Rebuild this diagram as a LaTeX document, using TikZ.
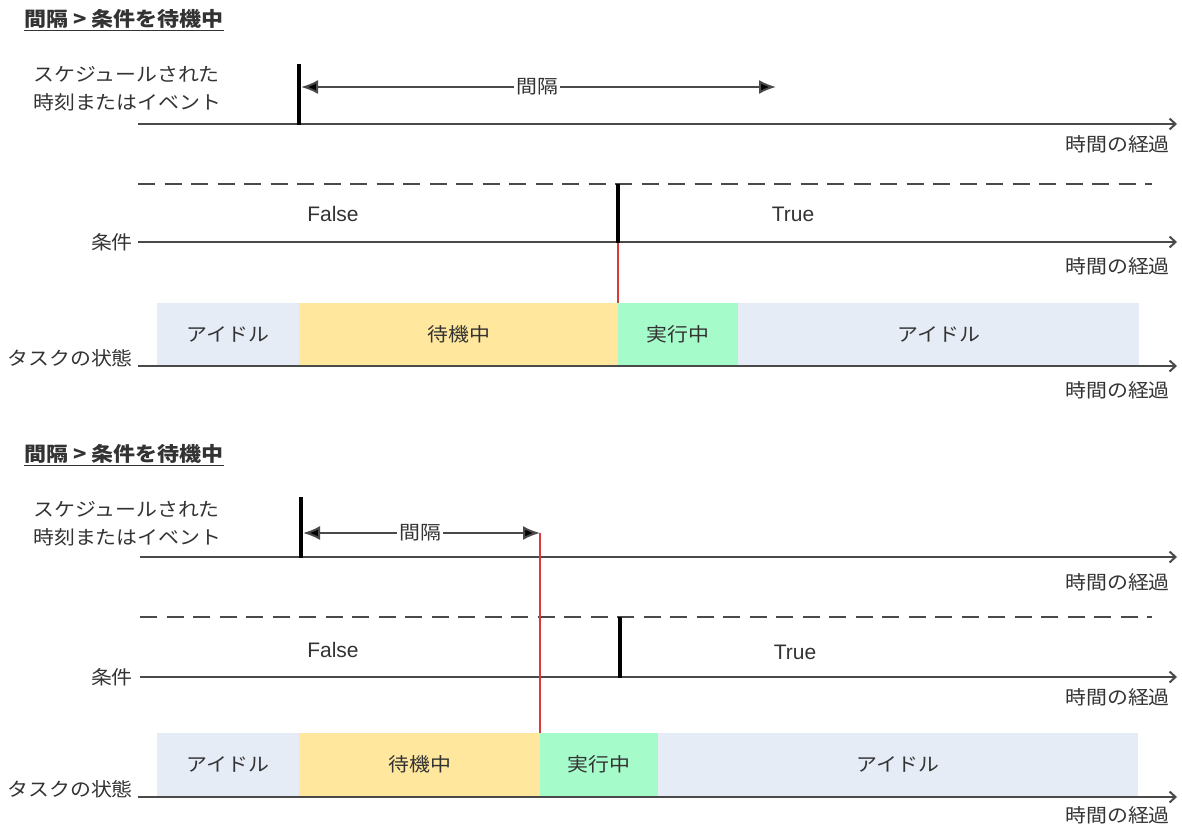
\documentclass[tikz,border=0pt]{standalone}
\usepackage{fontspec}
\setmainfont[FakeStretch=1.1]{Noto Sans CJK JP}
\newfontfamily\latinfont{Liberation Sans}
\usetikzlibrary{arrows.meta}
\definecolor{axisgray}{HTML}{4A4A4A}
\definecolor{txtgray}{HTML}{333333}
\definecolor{redline}{HTML}{D83A3A}
\definecolor{idlecol}{HTML}{E6ECF6}
\definecolor{waitcol}{HTML}{FFE79E}
\definecolor{runcol}{HTML}{A6FBCA}
\tikzset{
  axis/.style={draw=axisgray, line width=2pt, -{Straight Barb[length=6pt,width=11pt]}},
  lbl/.style={text=txtgray, font=\fontsize{19}{28}\selectfont, inner sep=0pt},
  ttl/.style={text=txtgray, font=\fontsize{20}{24}\selectfont\bfseries, inner sep=0pt, anchor=west},
  tf/.style={text=txtgray, font=\fontsize{21}{24}\selectfont\latinfont, inner sep=0pt},
  tickmark/.style={line width=4pt, draw=black},
  ivl/.style={line width=2pt, draw=axisgray, {Latex[length=17pt,width=14pt,fill=black]}-{Latex[length=17pt,width=14pt,fill=black]}},
  trig/.style={draw=redline, line width=1.3pt},
  dashline/.style={draw=axisgray, line width=2pt, dash pattern=on 17pt off 9.5pt},
  state/.style={lbl, minimum height=63pt, anchor=north west},
  elapsed/.style={lbl, anchor=east},
}
\begin{document}
\begin{tikzpicture}[x=1pt,y=-1pt]
\useasboundingbox (0,0) rectangle (1182,827);

% ================= Top section =================
\node[ttl] (t1) at (24,20) {\underline{間隔 > 条件を待機中}};
\node[lbl, anchor=west, align=left] (s1) at (33,89) {スケジュールされた\\時刻またはイベント};

% schedule axis
\coordinate (a1s) at (138,124);
\coordinate (a1e) at (1177,124);
\draw[axis] (a1s) -- (a1e);
\node[elapsed] (e1) at (1170,144) {時間の経過};
\coordinate (k1t) at (299,64);
\coordinate (k1b) at (299,125);
\draw[tickmark] (k1t) -- (k1b);
\coordinate (i1s) at (301,87);
\coordinate (i1e) at (776,87);
\draw[ivl] (i1s) -- (i1e);
\node[lbl, fill=white, inner xsep=2pt] (il1) at (537,87) {間隔};

% condition
\coordinate (d1s) at (138,184);
\coordinate (d1e) at (1152,184);
\draw[dashline] (d1s) -- (d1e);
\node[tf] (f1) at (333,214) {False};
\node[tf] (tr1) at (793,214) {True};
\node[lbl, anchor=east] (c1) at (133,242) {条件};
\coordinate (a2s) at (138,242);
\coordinate (a2e) at (1177,242);
\draw[axis] (a2s) -- (a2e);
\coordinate (k2t) at (618,184);
\coordinate (k2b) at (618,243);
\draw[tickmark] (k2t) -- (k2b);
\node[elapsed] (e2) at (1170,266) {時間の経過};

% task states
\node[state, fill=idlecol, minimum width=142pt] (b11) at (157,303) {アイドル};
\node[state, fill=waitcol, minimum width=319pt] (b12) at (299,303) {待機中};
\node[state, fill=runcol, minimum width=120pt] (b13) at (618,303) {実行中};
\node[state, fill=idlecol, minimum width=401pt] (b14) at (738,303) {アイドル};
\draw[trig] (k2b) -- (b13.north west);
\node[lbl, anchor=east] (ts1) at (133,358) {タスクの状態};
\coordinate (a3s) at (138,366);
\coordinate (a3e) at (1177,366);
\draw[axis] (a3s) -- (a3e);
\node[elapsed] (e3) at (1170,390) {時間の経過};

% ================= Bottom section =================
\node[ttl] (t2) at (24,455) {\underline{間隔 > 条件を待機中}};
\node[lbl, anchor=west, align=left] (s2) at (33,524) {スケジュールされた\\時刻またはイベント};

\coordinate (a4s) at (140,557);
\coordinate (a4e) at (1177,557);
\draw[axis] (a4s) -- (a4e);
\node[elapsed] (e4) at (1170,582) {時間の経過};
\coordinate (k4t) at (301,497);
\coordinate (k4b) at (301,558);
\draw[tickmark] (k4t) -- (k4b);
\coordinate (i2s) at (303,533);
\coordinate (i2e) at (540,533);
\draw[ivl] (i2s) -- (i2e);
\node[lbl, fill=white, inner xsep=2pt] (il2) at (420,533) {間隔};

\coordinate (d2s) at (140,617);
\coordinate (d2e) at (1152,617);
\draw[dashline] (d2s) -- (d2e);
\node[tf] (f2) at (333,650) {False};
\node[tf] (tr2) at (795,652) {True};
\node[lbl, anchor=east] (c2) at (133,677) {条件};
\coordinate (a5s) at (140,677);
\coordinate (a5e) at (1177,677);
\draw[axis] (a5s) -- (a5e);
\coordinate (k5t) at (620,617);
\coordinate (k5b) at (620,678);
\draw[tickmark] (k5t) -- (k5b);
\node[elapsed] (e5) at (1170,697) {時間の経過};

\node[state, fill=idlecol, minimum width=142pt] (b21) at (157,733) {アイドル};
\node[state, fill=waitcol, minimum width=241pt] (b22) at (299,733) {待機中};
\node[state, fill=runcol, minimum width=118pt] (b23) at (540,733) {実行中};
\node[state, fill=idlecol, minimum width=480pt] (b24) at (658,733) {アイドル};
\draw[trig] (i2e) -- (b23.north west);
\node[lbl, anchor=east] (ts2) at (133,789) {タスクの状態};
\coordinate (a6s) at (138,797);
\coordinate (a6e) at (1177,797);
\draw[axis] (a6s) -- (a6e);
\node[elapsed] (e6) at (1170,815) {時間の経過};
\end{tikzpicture}
\end{document}
